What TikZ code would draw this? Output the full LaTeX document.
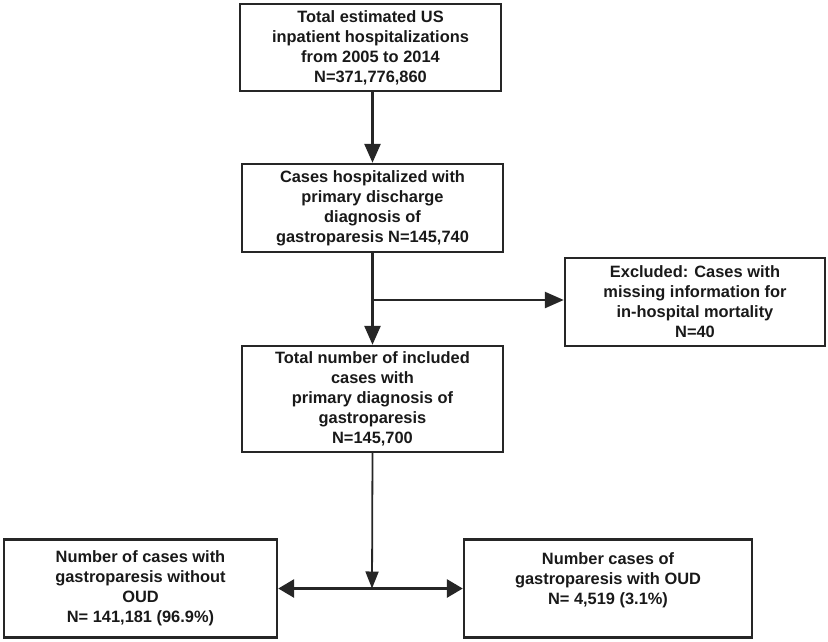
\documentclass[tikz,border=0pt]{standalone}
\usepackage{fontspec}
\setmainfont{Liberation Sans}
\usetikzlibrary{arrows.meta}

\begin{document}
\begin{tikzpicture}[x=1pt, y=-1pt,
	flowbox/.style={draw=black!85, line width=2.4pt, inner sep=0pt, align=center,
		font=\fontsize{16.4}{20}\selectfont\bfseries, text=black!90},
	flowline/.style={draw=black!85, line width=2.6pt},
	flowtip/.style={-{Triangle[width=16pt,length=19pt]}}]
			%%%%% START %%%%%
			
			\useasboundingbox (0, 0) rectangle (828, 641);
			
			\node[flowbox, minimum width=261, minimum height=87] (total) at (370.5, 47.5)
				{Total estimated US\\inpatient hospitalizations\\from 2005 to 2014\\N=371,776,860};
			\node[flowbox, minimum width=261, minimum height=88] (cases) at (372.5, 208)
				{Cases hospitalized with\\primary discharge\\diagnosis of\\gastroparesis N=145,740};
			\node[flowbox, minimum width=260, minimum height=88] (excl) at (695, 302)
				{Excluded: Cases with\\missing information for\\in-hospital mortality\\N=40};
			\node[flowbox, minimum width=261, minimum height=106] (incl) at (372.5, 399)
				{Total number of included\\cases with\\primary diagnosis of\\gastroparesis\\N=145,700};
			
			\node[flowbox, minimum width=273, minimum height=98] (nooud) at (140.5, 588.5)
				{Number of cases with\\gastroparesis without\\OUD\\N= 141,181 (96.9\%)};
			\node[flowbox, minimum width=288, minimum height=98] (oud) at (608, 588.5)
				{Number cases of\\gastroparesis with OUD\\N= 4,519 (3.1\%)\\\phantom{N}};
			
			\coordinate (branch) at (372, 300);
			\coordinate (split) at (372, 588.5);
			
			\draw[flowline, flowtip] (total.south -| cases.north) -- (cases.north);
			\draw[flowline, flowtip] (cases.south) -- (incl.north);
			\draw[flowline, flowtip] (branch) -- (branch -| excl.west);
			
			\draw[flowline, line width=1.8pt, -{Triangle[width=13pt,length=17pt]}] (incl.south) -- (split);
			\draw[flowline, line width=3pt, {Triangle[width=18pt,length=16pt]}-{Triangle[width=18pt,length=16pt]}]
				(nooud.east) -- (oud.west);
			
			%%%%% END %%%%%
\end{tikzpicture}
\end{document}
